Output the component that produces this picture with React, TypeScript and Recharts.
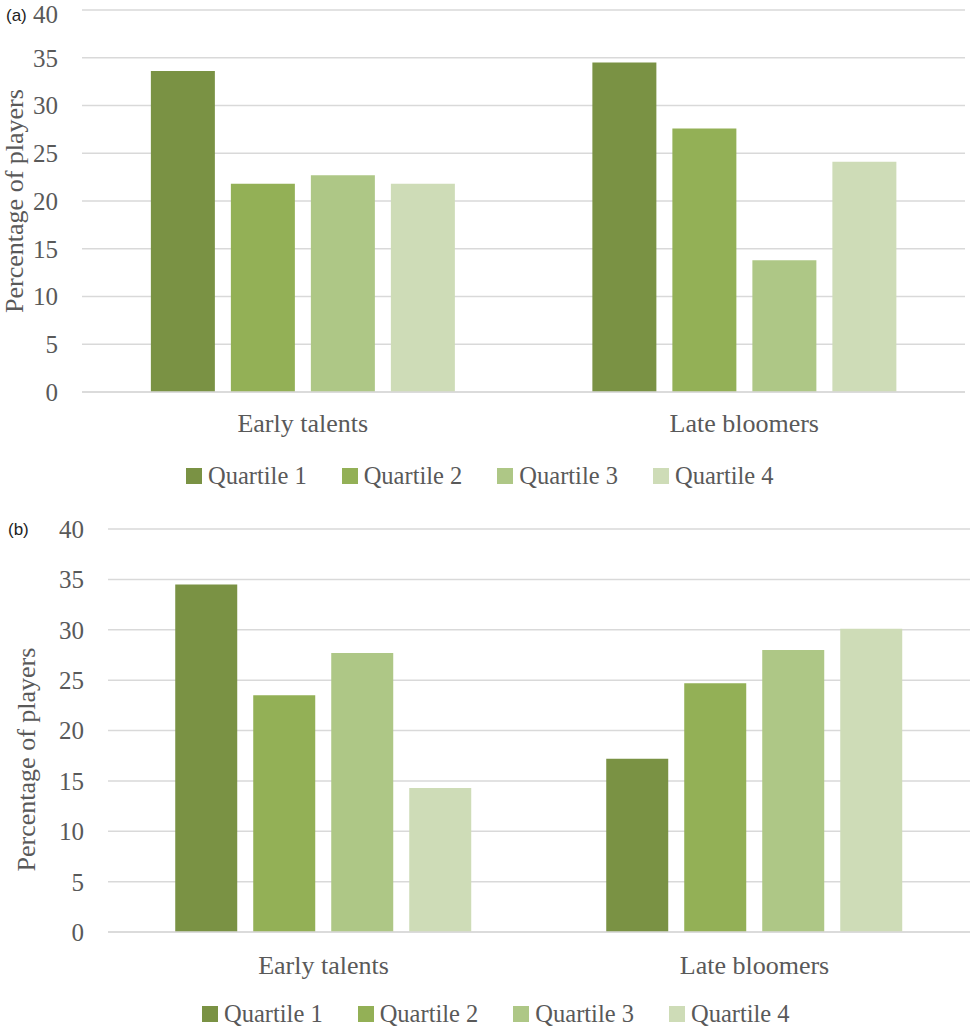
import { Bar, BarChart, CartesianGrid, Label, Legend, XAxis, YAxis } from 'recharts';

const categories = ['Early talents', 'Late bloomers'];
const quartiles = ['Quartile 1', 'Quartile 2', 'Quartile 3', 'Quartile 4'];
const colors = ['#7a9244', '#93b056', '#aec786', '#cedcb7'];
const yTicks = [0, 5, 10, 15, 20, 25, 30, 35, 40];

// panel (a)
const aQ1 = [33.6, 34.5];
const aQ2 = [21.8, 27.6];
const aQ3 = [22.7, 13.8];
const aQ4 = [21.8, 24.1];

// panel (b)
const bQ1 = [34.5, 17.2];
const bQ2 = [23.5, 24.7];
const bQ3 = [27.7, 28.0];
const bQ4 = [14.3, 30.1];

const serif = '"Times New Roman", "Liberation Serif", serif';
const textGray = '#595959';

const toRows = (series: number[][]) =>
  categories.map((name, i) => {
    const row: Record<string, string | number> = { name };
    quartiles.forEach((q, j) => {
      row[q] = series[j][i];
    });
    return row;
  });

const legendContent = (left: number) => (props: any) => (
  <div style={{ display: 'flex', alignItems: 'center', paddingLeft: left, height: 30 }}>
    {(props.payload || []).map((entry: any) => (
      <div key={entry.value} style={{ display: 'flex', alignItems: 'center', marginRight: 35 }}>
        <span style={{ display: 'inline-block', width: 16, height: 16, background: entry.color, marginRight: 6 }} />
        <span style={{ fontFamily: serif, fontSize: 24.5, color: textGray, lineHeight: 1 }}>{entry.value}</span>
      </div>
    ))}
  </div>
);

type PanelProps = {
  rows: Record<string, string | number>[];
  height: number;
  margin: { top: number; right: number; left: number; bottom: number };
  yWidth: number;
  labelDx: number;
  labelDy: number;
  xTickMargin: number;
  legendTop: number;
  legendLeft: number;
};

function Panel({ rows, height, margin, yWidth, labelDx, labelDy, xTickMargin, legendTop, legendLeft }: PanelProps) {
  return (
    <BarChart width={972} height={height} data={rows} margin={margin} barCategoryGap="15.6%" barGap={16}>
      <CartesianGrid vertical={false} stroke="#d9d9d9" strokeWidth={1.5} />
      <XAxis
        dataKey="name"
        height={30}
        tickLine={false}
        tickSize={0}
        tickMargin={xTickMargin}
        axisLine={{ stroke: '#d9d9d9', strokeWidth: 1.5 }}
        tick={{ fill: textGray, fontSize: 26, fontFamily: serif }}
      />
      <YAxis
        width={yWidth}
        domain={[0, 40]}
        ticks={yTicks}
        axisLine={false}
        tickLine={false}
        tickSize={0}
        tickMargin={24}
        tick={{ fill: textGray, fontSize: 25, fontFamily: serif }}
      >
        <Label
          value="Percentage of players"
          angle={-90}
          position="center"
          dx={labelDx}
          dy={labelDy}
          style={{ fill: textGray, fontSize: 26, fontFamily: serif }}
        />
      </YAxis>
      <Legend
        layout="horizontal"
        verticalAlign="middle"
        align="center"
        wrapperStyle={{ top: legendTop, left: 0, width: 972 }}
        content={legendContent(legendLeft)}
      />
      {quartiles.map((q, j) => (
        <Bar key={q} dataKey={q} name={q} fill={colors[j]} isAnimationActive={false} />
      ))}
    </BarChart>
  );
}

const tag = { position: 'absolute' as const, fontFamily: '"Liberation Sans", Arial, sans-serif', fontSize: 17, color: '#222', lineHeight: 1 };

export default function App() {
  return (
    <div style={{ position: 'absolute', left: 0, top: 0, width: 972, height: 1029, background: '#fff', overflow: 'hidden' }}>
      <div style={{ position: 'absolute', left: 0, top: 0 }}>
        <Panel
          rows={toRows([aQ1, aQ2, aQ3, aQ4])}
          height={500}
          margin={{ top: 10, right: 7, left: 0, bottom: 78 }}
          yWidth={82}
          labelDx={-27}
          labelDy={0}
          xTickMargin={22}
          legendTop={461}
          legendLeft={186}
        />
      </div>
      <div style={{ position: 'absolute', left: 0, top: 500 }}>
        <Panel
          rows={toRows([bQ1, bQ2, bQ3, bQ4])}
          height={529}
          margin={{ top: 29, right: 2, left: 0, bottom: 67 }}
          yWidth={108}
          labelDx={-28}
          labelDy={29}
          xTickMargin={24}
          legendTop={499}
          legendLeft={202}
        />
      </div>
      <span style={{ ...tag, left: 6, top: 7 }}>(a)</span>
      <span style={{ ...tag, left: 8, top: 521 }}>(b)</span>
    </div>
  );
}
